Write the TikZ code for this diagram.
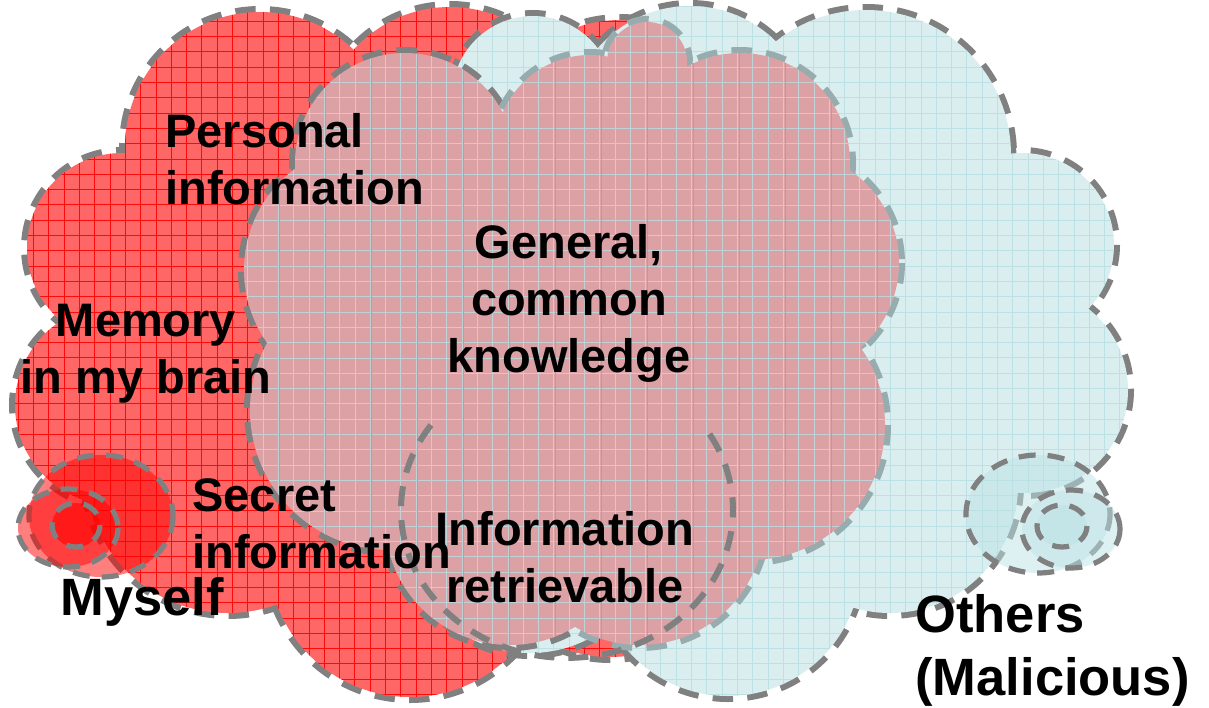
\documentclass[tikz,border=0pt]{standalone}
\usepackage{fontspec}
\setmainfont{Liberation Sans}
\definecolor{edgegray}{RGB}{128,128,128}
\definecolor{edgeteal}{RGB}{150,172,174}
\definecolor{redfill}{RGB}{255,102,102}
\definecolor{redgrid}{RGB}{255,10,10}
\definecolor{bluefill}{RGB}{218,238,240}
\definecolor{bluegrid}{RGB}{188,225,228}
\definecolor{pinkfill}{RGB}{219,161,165}
\definecolor{pinkgrid}{RGB}{192,210,214}
\definecolor{pinkstripe}{RGB}{230,136,140}
\definecolor{otherfill}{RGB}{188,226,230}
% puff lists: centre x / centre y / radius (pixel units, y downwards)
\def\redrim{122/248/95, 115/405/100, 228/470/143, 410/555/142, 610/527/130, 260/147/135, 450/137/130, 620/150/130}
\def\redcore{400/330/200, 250/320/130}
\def\bluerim{533/97/81, 690/128/122, 866/155/145, 1022/245/92, 1025/390/103, 890/485/128, 728/563/133, 530/525/128}
\def\bluecore{750/350/230, 600/300/200}
\def\pinkrimA{405/163/110, 370/270/126, 390/410/140, 510/520/125}
\def\pinkrimB{647/62/40, 590/150/95, 740/163/110, 787/263/112, 750/425/135, 640/520/125}
\def\pinkcore{570/330/220}
\begin{document}
\begin{tikzpicture}[x=0.5pt,y=-0.5pt,
  rim/.style={line width=6pt, dash pattern=on 10pt off 7pt},
  ring/.style={draw=edgegray, line width=2.6pt, dash pattern=on 8.5pt off 6pt},
  lbl/.style={inner sep=0pt, font=\fontsize{23.5}{28.5}\selectfont\bfseries},
  biglbl/.style={inner sep=0pt, font=\fontsize{26.25}{31.5}\selectfont\bfseries}]
\useasboundingbox (0,0) rectangle (1209,707);

% ---- red cloud: memory, personal and secret information
\draw[rim, draw=edgegray] foreach \cx/\cy/\r in \redrim {(\cx,\cy) circle[radius=\r]};
\begin{scope}
  \clip foreach \cx/\cy/\r in \redrim {(\cx,\cy) circle[radius=\r]}
        foreach \cx/\cy/\r in \redcore {(\cx,\cy) circle[radius=\r]};
  \fill[redfill] (0,0) rectangle (1209,707);
  \draw[redgrid, line width=0.45pt]
    foreach \g in {3,18.3,...,1209} {(\g,0) -- (\g,707)}
    foreach \g in {6,21.3,...,707} {(0,\g) -- (1209,\g)};
\end{scope}

% ---- blue cloud: others
\draw[rim, draw=edgegray] foreach \cx/\cy/\r in \bluerim {(\cx,\cy) circle[radius=\r]};
\begin{scope}
  \clip foreach \cx/\cy/\r in \bluerim {(\cx,\cy) circle[radius=\r]}
        foreach \cx/\cy/\r in \bluecore {(\cx,\cy) circle[radius=\r]};
  \fill[bluefill] (0,0) rectangle (1209,707);
  \draw[bluegrid, line width=0.5pt]
    foreach \g in {3,18.3,...,1209} {(\g,0) -- (\g,707)}
    foreach \g in {6,21.3,...,707} {(0,\g) -- (1209,\g)};
\end{scope}

% ---- pink cloud: general knowledge
\draw[rim, draw=edgegray] foreach \cx/\cy/\r in \pinkrimA {(\cx,\cy) circle[radius=\r]};
\draw[rim, draw=edgeteal] foreach \cx/\cy/\r in \pinkrimB {(\cx,\cy) circle[radius=\r]};
\begin{scope}
  \clip foreach \cx/\cy/\r in \pinkrimA {(\cx,\cy) circle[radius=\r]}
        foreach \cx/\cy/\r in \pinkrimB {(\cx,\cy) circle[radius=\r]}
        foreach \cx/\cy/\r in \pinkcore {(\cx,\cy) circle[radius=\r]};
  \fill[pinkfill] (0,0) rectangle (1209,707);
  \draw[pinkgrid, line width=0.4pt]
    foreach \g in {3,18.3,...,1209} {(\g,0) -- (\g,707)}
    foreach \g in {6,21.3,...,707} {(0,\g) -- (1209,\g)};
  \draw[pinkstripe, line width=0.4pt]
    foreach \g in {49,95,...,1209} {(\g,0) -- (\g,707)};
\end{scope}

% ---- retrievable information outline
\draw[ring, line width=3pt, dash pattern=on 10pt off 7pt]
  (431,425) arc[start angle=215, end angle=-35, x radius=166, y radius=148];

% ---- myself rings
\fill[red, opacity=.5] (101,516) ellipse[x radius=72, y radius=61];
\draw[ring] (101,516) ellipse[x radius=72, y radius=61];
\fill[red, opacity=.5] (68,528) ellipse[x radius=50, y radius=39];
\draw[ring] (68,528) ellipse[x radius=50, y radius=39];
\fill[red, opacity=.6] (76,525) ellipse[x radius=24, y radius=22];
\draw[ring] (76,525) ellipse[x radius=24, y radius=22];

% ---- others rings
\fill[otherfill, opacity=.5] (1038,514) ellipse[x radius=72, y radius=59];
\draw[ring] (1038,514) ellipse[x radius=72, y radius=59];
\fill[otherfill, opacity=.5] (1071,529) ellipse[x radius=49, y radius=39];
\draw[ring] (1071,529) ellipse[x radius=49, y radius=39];
\fill[otherfill, opacity=.6] (1062,526) ellipse[x radius=25, y radius=21];
\draw[ring] (1062,526) ellipse[x radius=25, y radius=21];

% ---- labels (anchored at the baseline of their last line)
\node[lbl, anchor=base west, align=left] (personal) at (165,204) {Personal\\information};
\node[lbl, anchor=base, align=center] (general) at (569,372) {General,\\common\\knowledge};
\node[lbl, anchor=base, align=center] (memory) at (146,393) {Memory\\in my brain};
\node[lbl, anchor=base west, align=left] (secret) at (192,568) {Secret\\information};
\node[lbl, anchor=base, align=center] (retrieve) at (565,602) {Information\\retrievable};
\node[biglbl, anchor=base west] (myself) at (60,615) {Myself};
\node[biglbl, anchor=base west, align=left] (others) at (915,695) {Others\\(Malicious)};
\end{tikzpicture}
\end{document}
